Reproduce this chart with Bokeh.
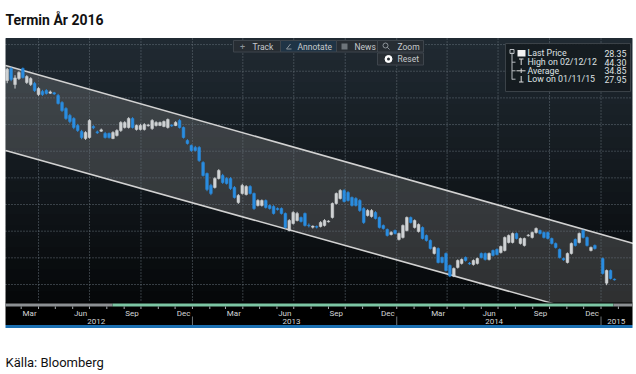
import numpy as np
import pandas as pd
from datetime import datetime, timedelta
from bokeh.plotting import figure
from bokeh.models import Range1d, ColumnDataSource
from bokeh.embed import file_html
from bokeh.resources import INLINE
from bokeh.core.properties import value

# ---------------- data ----------------
title_text = "Termin År 2016"
source_text = "Källa: Bloomberg"

# weekly bars (Sunday dates); the week of 2014-12-28 has no bar
bar_dates = pd.date_range("2012-02-05", periods=156, freq="7D").drop(pd.Timestamp("2014-12-28"))

opens = [43.30, 44.20, 43.00, 43.45, 44.20, 43.15, 43.00, 43.08, 42.25, 42.48,
         42.55, 42.35, 42.38, 42.18, 41.65, 41.20, 40.68, 40.45, 39.93, 39.48,
         38.95, 39.03, 39.85, 39.45, 39.50, 39.33, 39.33, 38.95, 39.18, 39.55,
         39.78, 39.78, 40.45, 39.63, 39.63, 39.63, 39.90, 39.70, 39.93, 39.93,
         39.85, 39.78, 39.96, 39.93, 40.30, 39.78, 38.80, 38.43, 38.28, 38.28,
         37.15, 36.33, 35.43, 35.28, 35.95, 36.18, 35.95, 35.95, 35.28, 34.15,
         34.83, 34.75, 35.35, 34.83, 33.93, 33.93, 34.30, 33.93, 33.85, 33.70,
         33.70, 33.33, 32.05, 32.58, 32.80, 33.03, 33.33, 32.45, 32.30, 32.35,
         32.35, 32.43, 32.70, 33.03, 34.08, 34.45, 35.05, 34.90, 34.53, 34.45,
         34.30, 33.70, 33.18, 33.10, 33.40, 33.03, 32.43, 32.13, 31.75, 32.05,
         31.38, 31.53, 32.05, 33.03, 32.28, 31.98, 32.28, 31.68, 31.30, 30.33,
         30.70, 30.03, 30.33, 29.43, 28.63, 29.28, 29.58, 30.03, 29.60, 29.50,
         29.58, 30.33, 30.33, 29.88, 30.55, 30.63, 30.40, 30.55, 31.15, 31.15,
         31.83, 31.08, 30.93, 31.65, 31.53, 31.90, 32.05, 31.90, 31.90, 31.45,
         31.08, 30.63, 29.95, 29.65, 30.33, 31.38, 31.15, 32.05, 31.53, 30.55,
         30.93, 29.95, 28.10, 29.05, 28.40]
highs = [44.25, 44.30, 43.70, 44.00, 44.28, 43.70, 43.55, 43.20, 42.80, 42.60,
         42.65, 42.55, 42.45, 42.30, 41.75, 41.30, 40.80, 40.55, 40.05, 39.60,
         39.50, 40.40, 39.95, 39.55, 39.70, 39.45, 39.40, 39.50, 39.65, 40.25,
         40.25, 40.55, 40.55, 40.00, 40.05, 40.10, 40.05, 40.40, 40.25, 40.22,
         40.30, 40.45, 40.02, 40.25, 40.40, 39.85, 38.90, 38.50, 38.40, 38.38,
         37.25, 36.40, 35.55, 36.05, 36.65, 36.30, 36.05, 36.05, 35.38, 34.78,
         35.55, 35.45, 35.45, 34.90, 34.40, 34.38, 34.38, 34.00, 33.95, 33.78,
         33.78, 33.40, 32.90, 33.50, 33.45, 33.10, 33.40, 32.58, 32.43, 32.43,
         32.75, 32.90, 32.82, 34.15, 34.90, 35.15, 35.15, 35.00, 34.60, 34.55,
         34.40, 33.80, 33.65, 33.65, 33.50, 33.10, 32.50, 32.20, 32.00, 32.12,
         31.90, 32.50, 33.10, 33.10, 32.88, 32.58, 32.35, 31.75, 31.38, 30.85,
         30.78, 30.10, 30.40, 29.50, 29.28, 29.88, 29.95, 30.10, 29.68, 29.88,
         30.02, 30.40, 30.40, 30.40, 30.62, 30.70, 30.92, 31.60, 31.75, 31.90,
         31.90, 31.52, 31.52, 31.78, 31.98, 32.28, 32.12, 31.98, 31.98, 31.52,
         31.15, 30.70, 30.02, 30.40, 31.15, 31.45, 31.90, 32.12, 31.60, 30.85,
         31.00, 30.02, 29.12, 29.12, 28.45]
lows = [43.10, 43.25, 42.70, 43.35, 43.45, 43.05, 42.90, 42.45, 42.15, 42.15,
        42.25, 42.30, 42.22, 41.50, 40.95, 40.35, 40.10, 39.65, 39.45, 38.90,
        38.85, 38.95, 39.65, 39.30, 39.45, 38.95, 38.95, 38.90, 39.10, 39.45,
        39.70, 39.70, 39.70, 39.55, 39.55, 39.55, 39.85, 39.60, 39.85, 39.88,
        39.80, 39.70, 39.82, 39.88, 39.70, 38.95, 38.50, 37.95, 37.98, 37.20,
        36.10, 35.00, 34.70, 35.20, 35.88, 35.55, 35.50, 35.10, 34.45, 34.05,
        34.75, 34.68, 34.75, 33.60, 33.85, 33.85, 33.70, 33.62, 33.25, 33.55,
        33.25, 32.20, 31.98, 32.50, 32.73, 32.65, 32.35, 32.28, 32.20, 32.20,
        32.28, 32.35, 32.65, 32.95, 34.00, 34.38, 34.15, 34.22, 33.85, 33.85,
        33.45, 32.55, 33.10, 33.02, 32.88, 32.20, 32.12, 31.60, 31.68, 31.75,
        31.30, 31.45, 31.98, 32.58, 32.20, 31.90, 31.38, 31.22, 30.62, 30.25,
        29.58, 29.58, 28.98, 28.55, 28.55, 29.20, 29.50, 29.72, 29.48, 29.42,
        29.50, 29.95, 29.80, 29.80, 30.10, 30.18, 30.32, 30.48, 31.08, 31.08,
        31.38, 31.00, 30.85, 31.60, 31.45, 31.82, 31.75, 31.45, 31.38, 31.00,
        30.70, 29.95, 29.78, 29.58, 30.25, 30.85, 31.08, 31.45, 30.85, 30.48,
        30.62, 28.75, 27.95, 28.38, 28.30]
closes = [44.15, 43.38, 43.50, 43.90, 43.53, 43.60, 43.45, 42.55, 42.70, 42.25,
          42.33, 42.45, 42.30, 41.58, 41.05, 40.45, 40.23, 39.78, 39.55, 39.03,
          39.40, 40.30, 39.75, 39.38, 39.60, 39.03, 39.03, 39.40, 39.55, 40.15,
          40.15, 40.45, 39.78, 39.93, 39.93, 40.00, 39.96, 40.30, 40.15, 40.15,
          40.23, 40.38, 39.90, 40.15, 39.78, 39.03, 38.58, 38.05, 38.05, 37.30,
          36.18, 35.13, 34.83, 35.95, 36.55, 35.65, 35.58, 35.20, 34.53, 34.68,
          35.43, 35.35, 34.83, 33.70, 34.30, 34.30, 33.78, 33.70, 33.33, 33.62,
          33.33, 32.28, 32.80, 33.40, 33.33, 32.73, 32.43, 32.40, 32.38, 32.30,
          32.65, 32.80, 32.76, 34.08, 34.83, 35.05, 34.23, 34.30, 33.93, 33.93,
          33.55, 32.65, 33.55, 33.55, 32.95, 32.28, 32.20, 31.68, 31.90, 31.83,
          31.83, 32.43, 33.03, 32.65, 32.80, 32.50, 31.45, 31.30, 30.70, 30.78,
          29.65, 29.65, 29.05, 28.63, 29.20, 29.80, 29.88, 29.80, 29.55, 29.80,
          29.95, 30.03, 29.88, 30.33, 30.18, 30.25, 30.85, 31.53, 31.68, 31.83,
          31.45, 31.45, 31.45, 31.70, 31.90, 32.20, 31.83, 31.53, 31.45, 31.08,
          30.78, 30.03, 29.85, 30.33, 31.08, 30.93, 31.83, 31.53, 30.93, 30.78,
          30.70, 28.83, 29.05, 28.45, 28.35]

channel_dates = pd.to_datetime(["2012-02-02", "2015-02-28"])
channel_upper = [44.43, 31.08]
channel_lower = [38.05, 24.88]

grid_prices = [28, 30, 32, 34, 36, 38, 40, 42, 44, 46]
grid_dates = pd.to_datetime(["2012-04-01", "2012-07-01", "2012-10-01", "2013-01-01",
                             "2013-04-01", "2013-07-01", "2013-10-01", "2014-01-01",
                             "2014-04-01", "2014-07-01", "2014-10-01", "2015-01-01"])
month_tick_dates = pd.date_range("2012-03-01", "2015-02-01", freq="MS")
month_labels = ["Mar", "Jun", "Sep", "Dec"] * 3
month_label_dates = pd.to_datetime(["2012-03-16", "2012-06-15", "2012-09-15", "2012-12-16",
                                    "2013-03-16", "2013-06-15", "2013-09-15", "2013-12-16",
                                    "2014-03-16", "2014-06-15", "2014-09-15", "2014-12-16"])
year_labels = ["2012", "2013", "2014", "2015"]
year_label_dates = pd.to_datetime(["2012-07-13", "2013-06-27", "2014-06-24", "2015-01-28"])
year_sep_dates = pd.to_datetime(["2013-01-01", "2014-01-01", "2015-01-01"])

legend_names = ["Last Price", "High on 02/12/12", "Average", "Low on 01/11/15"]
legend_values = ["28.35", "44.30", "34.85", "27.95"]
toolbar_buttons = ["Track", "Annotate", "News", "Zoom"]

# ---------------- layout helpers (page pixels) ----------------
W, H = 636, 374
ORIGIN = datetime(2012, 1, 1)
X_ORIGIN_PX = -12.9
PX_PER_DAY = 0.5597
Y_28_PX = 284.0
PX_PER_UNIT = 13.33


def page_x_to_date(q):
    return ORIGIN + timedelta(days=(q - X_ORIGIN_PX) / PX_PER_DAY)


def page_y_to_price(y):
    return 28.0 + (Y_28_PX - y) / PX_PER_UNIT


SANS = value("Roboto")

p = figure(width=W, height=H,
           x_range=Range1d(page_x_to_date(0), page_x_to_date(W)),
           y_range=Range1d(page_y_to_price(H), page_y_to_price(0)),
           x_axis_location=None, y_axis_location=None,
           toolbar_location=None, output_backend="svg", min_border=0)
p.extra_x_ranges = {"px": Range1d(0, W)}
p.extra_y_ranges = {"px": Range1d(H, 0)}
p.outline_line_color = None
p.background_fill_color = "white"
p.border_fill_color = "white"
p.xgrid.visible = False
p.ygrid.visible = False

PX = dict(x_range_name="px", y_range_name="px")
PL, PR = 5, 632  # panel left / right (page px)

# panel background gradient
n = 24
ys = np.linspace(38, 302, n + 1)
top_c = np.array([33, 43, 51])
bot_c = np.array([6, 8, 10])
cols = []
for i in range(n):
    t = (i + 0.5) / n
    c = top_c * (1 - t) + bot_c * t
    cols.append("#%02x%02x%02x" % tuple(int(v) for v in c))
p.quad(left=[PL] * n, right=[PR] * n, top=list(ys[:-1]), bottom=list(ys[1:]),
       fill_color=cols, line_color=cols, line_width=1, **PX)

# channel band
p.patch(x=list(channel_dates) + list(channel_dates[::-1]),
        y=channel_upper + channel_lower[::-1],
        fill_color="#8e8e8e", fill_alpha=0.30, line_color=None)

# grid
p.segment(x0=[PL] * len(grid_prices), x1=[PR] * len(grid_prices), y0=grid_prices, y1=grid_prices,
          x_range_name="px", line_color="#66717a", line_dash="1 2", line_width=1)
p.segment(x0=grid_dates, x1=grid_dates, y0=[38] * len(grid_dates), y1=[302] * len(grid_dates),
          y_range_name="px", line_color="#66717a", line_dash="1 2", line_width=1)

# channel lines
p.line(channel_dates, channel_upper, line_color="#d2d2d2", line_width=1.6)
p.line(channel_dates, channel_lower, line_color="#d2d2d2", line_width=1.6)

# candles
up_col, down_col = "#cfd2d4", "#2a8de0"
src = ColumnDataSource(dict(
    date=bar_dates, open=opens, high=highs, low=lows, close=closes,
    top=[max(o, c) for o, c in zip(opens, closes)],
    bottom=[min(o, c) for o, c in zip(opens, closes)],
    color=[up_col if c >= o else down_col for o, c in zip(opens, closes)],
))
p.segment(x0="date", y0="high", x1="date", y1="low", source=src, line_color="color", line_width=1)
p.vbar(x="date", width=4.8 * 86400000, top="top", bottom="bottom", source=src,
       fill_color="color", line_color="color", line_width=0.5)

# white area left of panel (covers anything drawn outside)
p.quad(left=[0], right=[PL], top=[0], bottom=[H], fill_color="white", line_color=None, **PX)
p.quad(left=[PR], right=[W], top=[0], bottom=[H], fill_color="white", line_color=None, **PX)

# axis strip
p.quad(left=[PL], right=[PR], top=[302], bottom=[324.5], fill_color="#000000", line_color=None, **PX)
p.quad(left=[PL, 112, 613], right=[112, 613, PR], top=[303] * 3, bottom=[306] * 3,
       fill_color=["#8c9093", "#7cc6a4", "#8c9093"], line_color=None, **PX)
p.quad(left=[PL], right=[PR], top=[324.5], bottom=[327.5], fill_color="#1b6fb1", line_color=None, **PX)
p.segment(x0=month_tick_dates, x1=month_tick_dates, y0=[306] * len(month_tick_dates),
          y1=[308.5] * len(month_tick_dates), y_range_name="px", line_color="#a6abaf", line_width=1)
p.segment(x0=year_sep_dates, x1=year_sep_dates, y0=[316] * 3, y1=[324.5] * 3,
          y_range_name="px", line_color="#6d7377", line_width=1)
p.text(x=month_label_dates, y=[312.5] * len(month_labels), text=month_labels, y_range_name="px",
       text_align="center", text_baseline="middle", text_font=SANS, text_font_size="8px",
       text_color="#d4d6d8")
p.text(x=year_label_dates, y=[321] * len(year_labels), text=year_labels, y_range_name="px",
       text_align="center", text_baseline="middle", text_font=SANS, text_font_size="8px",
       text_color="#d4d6d8")

# toolbar
seg_l = [233, 280, 336, 377]
seg_r = [280, 336, 377, 423]
p.quad(left=seg_l, right=seg_r, top=[40] * 4, bottom=[51.5] * 4,
       fill_color=["#272d33", "#1f3446", "#272d33", "#272d33"], line_color="#3e454c", line_width=1, **PX)
p.quad(left=[377], right=[423], top=[52.5], bottom=[64.5], fill_color="#272d33",
       line_color="#3e454c", line_width=1, **PX)
p.text(x=[252, 297, 354, 397], y=[46] * 4, text=toolbar_buttons, text_align="left", text_baseline="middle",
       text_font=SANS, text_font_size="8.5px", text_color="#c6cacd", **PX)
p.text(x=[397], y=[58.5], text=["Reset"], text_align="left", text_baseline="middle",
       text_font=SANS, text_font_size="8.5px", text_color="#c6cacd", **PX)
p.text(x=[242], y=[46], text=["+"], text_align="center", text_baseline="middle",
       text_font=SANS, text_font_size="9px", text_color="#8d949a", **PX)
p.segment(x0=[286, 286], y0=[48.5, 48.5], x1=[291, 290], y1=[48.5, 43.5],
          line_color="#8d949a", line_width=1, **PX)
p.quad(left=[341], right=[347], top=[43], bottom=[49], fill_color="#6d747a", line_color=None, **PX)
p.scatter(x=[385], y=[45], marker="circle", size=5, fill_color=None, line_color="#8d949a", line_width=1, **PX)
p.segment(x0=[386.7], y0=[46.7], x1=[389], y1=[49], line_color="#8d949a", line_width=1, **PX)
p.scatter(x=[388], y=[58.5], marker="circle", size=7, fill_color="#ffffff", line_color="#ffffff", **PX)
p.scatter(x=[388], y=[58.5], marker="circle", size=3, fill_color="#272d33", line_color=None, **PX)

# legend box
p.quad(left=[505], right=[630], top=[43], bottom=[91], fill_color="#151b20", fill_alpha=0.92,
       line_color="#3b4248", line_width=1, **PX)
row_y = [52.7, 61.7, 70.3, 78.7]
p.segment(x0=[511.5], y0=[52], x1=[511.5], y1=[79], line_color="#b8bcc0", line_width=1, **PX)
p.segment(x0=[511.5] * 3, y0=row_y[1:], x1=[515] * 3, y1=row_y[1:], line_color="#b8bcc0", line_width=1, **PX)
p.scatter(x=[511.5], y=[51], marker="square", size=4, fill_color=None, line_color="#b8bcc0", line_width=1, **PX)
p.quad(left=[517], right=[525], top=[49.5], bottom=[56], fill_color="#f2f2f2", line_color=None, **PX)
p.segment(x0=[520.7, 518.5, 516, 520.7, 520.7, 518.5], y0=[58.5, 58.5, 70.3, 68, 75.5, 81.5],
          x1=[520.7, 523, 525, 520.7, 520.7, 523], y1=[64.5, 58.5, 70.3, 72.5, 81.5, 81.5],
          line_color="#dcdcdc", line_width=1, **PX)
p.text(x=[527] * 4, y=row_y, text=legend_names, text_align="left", text_baseline="middle",
       text_font=SANS, text_font_size="8.8px", text_color="#dfe1e3", **PX)
p.text(x=[626] * 4, y=row_y, text=legend_values, text_align="right", text_baseline="middle",
       text_font=SANS, text_font_size="8.8px", text_color="#dfe1e3", **PX)

# title and source
p.text(x=[5], y=[19.5], text=[title_text], text_align="left", text_baseline="alphabetic",
       text_font=SANS, text_font_size="14px", text_font_style="bold", text_color="#111111", **PX)
p.text(x=[5], y=[362], text=[source_text], text_align="left", text_baseline="alphabetic",
       text_font=SANS, text_font_size="13px", text_color="#111111", **PX)

open("out.html", "w").write(file_html(p, INLINE))
